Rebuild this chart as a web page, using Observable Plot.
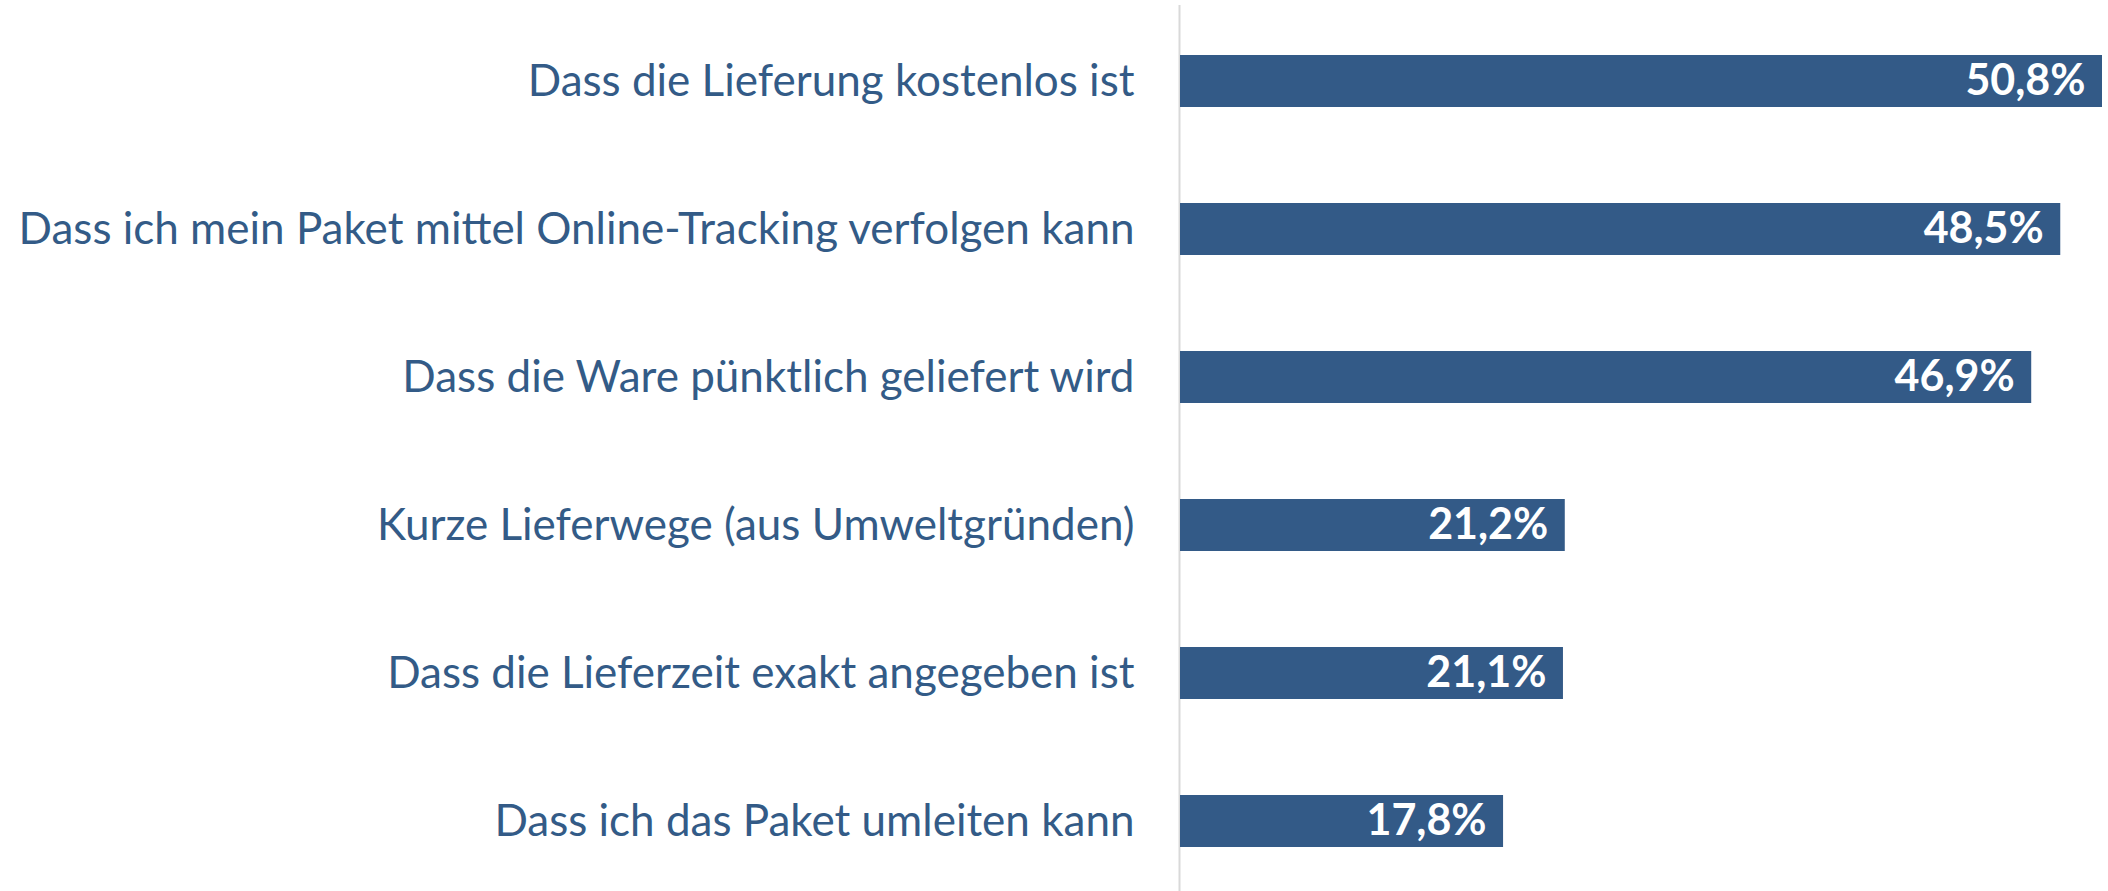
<!DOCTYPE html>
<html>
<head>
<meta charset="utf-8">
<script src="https://cdn.jsdelivr.net/npm/d3@7"></script>
<script src="https://cdn.jsdelivr.net/npm/@observablehq/plot@0.6"></script>
<style>
  html, body { margin: 0; padding: 0; background: #fff; }
</style>
</head>
<body>
<div id="chart"></div>
<script>
const categories = [
  "Dass die Lieferung kostenlos ist",
  "Dass ich mein Paket mittel Online-Tracking verfolgen kann",
  "Dass die Ware pünktlich geliefert wird",
  "Kurze Lieferwege (aus Umweltgründen)",
  "Dass die Lieferzeit exakt angegeben ist",
  "Dass ich das Paket umleiten kann"
];
const values = [50.8, 48.5, 46.9, 21.2, 21.1, 17.8];
const valueLabels = ["50,8%", "48,5%", "46,9%", "21,2%", "21,1%", "17,8%"];

const data = categories.map((c, i) => ({category: c, value: values[i], label: valueLabels[i]}));

const chart = Plot.plot({
  width: 2108,
  height: 891,
  marginLeft: 1180,
  marginRight: 6,
  marginTop: 5,
  marginBottom: -5,
  style: {fontFamily: "Lato, 'Open Sans', sans-serif", color: "#335b87", background: "#fff"},
  x: {domain: [0, 50.8], axis: null},
  y: {domain: categories, paddingInner: 0.65, paddingOuter: 0.325, axis: null},
  marks: [
    Plot.ruleX([0], {stroke: "#d9d9d9", strokeWidth: 2, dx: -1}),
    Plot.barX(data, {x: "value", y: "category", fill: "#335a87"}),
    Plot.text(data, {x: "value", y: "category", text: "label", textAnchor: "end", dx: -17, fill: "white", fontWeight: "bold", fontSize: 43}),
    Plot.axisY({tickSize: 0, tickPadding: 46, fontSize: 44, fill: "#335b87", label: null})
  ]
});
document.getElementById("chart").appendChild(chart);
</script>
</body>
</html>
